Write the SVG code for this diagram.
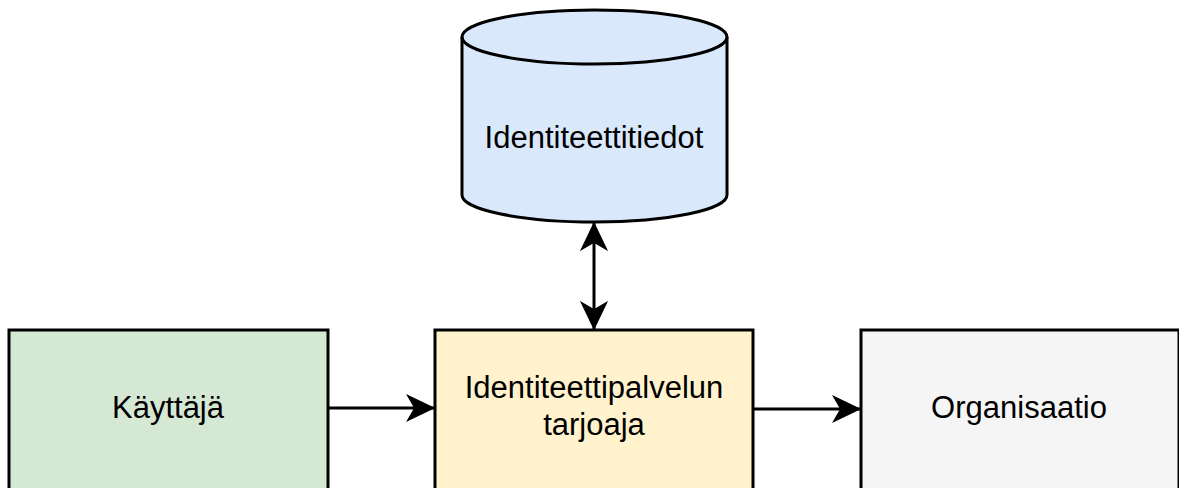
<svg xmlns="http://www.w3.org/2000/svg" width="1179" height="488" viewBox="0 0 1179 488">
  <style>
    .box { stroke: #000; stroke-width: 3; }
    .lbl { font-family: "Liberation Sans", Arial, Helvetica, sans-serif; font-size: 31px; fill: #000; text-anchor: middle; }
    .edge { stroke: #000; stroke-width: 3; fill: none; }
  </style>
  <defs>
    <marker id="arrow" markerUnits="userSpaceOnUse" markerWidth="30" markerHeight="30" viewBox="-26 -13 28 26" refX="0" refY="0" orient="auto-start-reverse">
      <path d="M0,0 L-25,-12 L-18,0 L-25,12 Z" fill="#000" stroke="#000" stroke-width="1"/>
    </marker>
  </defs>

  <rect width="1179" height="488" fill="#fff"/>

  <!-- data store -->
  <g id="identiteettitiedot">
    <path class="box" fill="#dae8fc" d="M462,37 A132.5,27 0 0 1 727,37 L727,195 A132.5,27 0 0 1 462,195 Z"/>
    <path class="box" fill="none" d="M462,37 A132.5,27 0 0 0 727,37"/>
    <text class="lbl" x="594" y="148">Identiteettitiedot</text>
  </g>

  <g id="kayttaja">
    <rect class="box" x="9" y="330" width="319" height="200" fill="#d5e8d4"/>
    <text class="lbl" x="168" y="418">Käyttäjä</text>
  </g>

  <g id="palveluntarjoaja">
    <rect class="box" x="435" y="330" width="318" height="200" fill="#fff2cc"/>
    <text class="lbl" x="594" y="398">Identiteettipalvelun</text>
    <text class="lbl" x="594" y="435">tarjoaja</text>
  </g>

  <g id="organisaatio">
    <rect class="box" x="861" y="330" width="318" height="200" fill="#f5f5f5"/>
    <text class="lbl" x="1019" y="418">Organisaatio</text>
  </g>

  <!-- connectors -->
  <g id="connectors">
    <line class="edge" x1="328" y1="408" x2="434" y2="408" marker-end="url(#arrow)"/>
    <line class="edge" x1="753" y1="409" x2="860" y2="409" marker-end="url(#arrow)"/>
    <line class="edge" x1="594" y1="223" x2="594" y2="329" marker-start="url(#arrow)" marker-end="url(#arrow)"/>
  </g>
</svg>
